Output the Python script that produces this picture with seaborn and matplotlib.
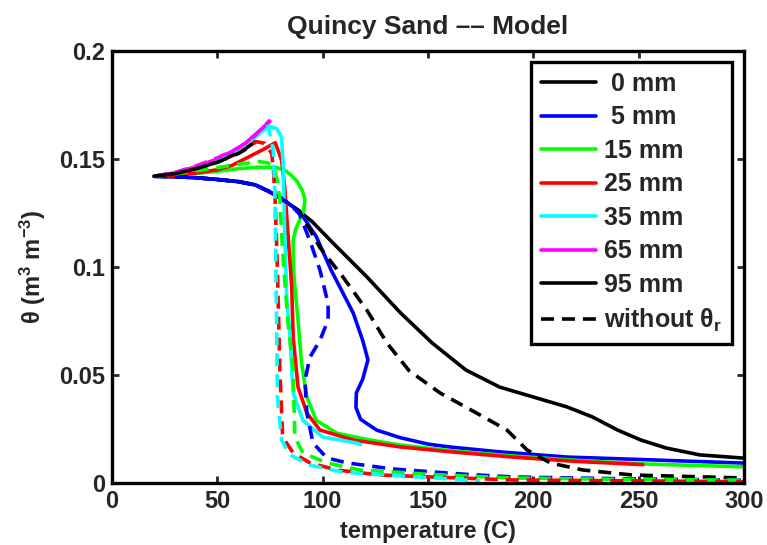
import numpy as np
import pandas as pd
import matplotlib
matplotlib.use("Agg")
import matplotlib.pyplot as plt
from matplotlib.lines import Line2D
import seaborn as sns

# ---- data: temperature (C) and water content theta (m3/m3) ----
# shared early drying branch for the 0 mm and 5 mm profiles
T_LOW = [20, 30, 40, 50, 60, 68, 74, 80, 85, 89]
TH_LOW = [0.142, 0.1418, 0.1413, 0.1405, 0.1395, 0.1380, 0.1352, 0.1320, 0.1285, 0.1258]

T_0MM = [95, 105, 121, 137, 152, 168, 184, 200, 216, 228, 240, 251, 263, 279, 300]
TH_0MM = [0.1210, 0.1110, 0.0954, 0.0787, 0.0648, 0.0523, 0.0444, 0.0398, 0.0352,
          0.0306, 0.0245, 0.0199, 0.0162, 0.0130, 0.0115]

T_5MM = [97, 104, 114.5, 119, 121.5, 119, 116, 115.8, 118, 125.6, 136.7, 150, 160, 184, 216, 247, 300]
TH_5MM = [0.1140, 0.0986, 0.0787, 0.0660, 0.0570, 0.0480, 0.0417, 0.0350, 0.0295,
          0.0245, 0.0210, 0.0180, 0.0167, 0.0144, 0.0120, 0.0110, 0.0092]

T_15MM = [20, 35, 50, 60, 70, 78, 82, 85, 88, 90.5, 91.6, 91, 89, 87, 86, 86, 86.5,
          88.3, 90, 92.5, 97, 106.8, 122.5, 136.7, 160, 190, 220, 252, 300]
TH_15MM = [0.142, 0.1428, 0.1443, 0.1455, 0.1462, 0.1460, 0.1448, 0.1425, 0.1395, 0.1350,
           0.1310, 0.1260, 0.1215, 0.1170, 0.1120, 0.1040, 0.0940, 0.0755, 0.0556, 0.0398,
           0.0290, 0.0230, 0.0199, 0.0176, 0.0150, 0.0125, 0.0105, 0.0088, 0.0075]

T_25MM = [20, 30, 40, 50, 57, 65, 72, 77.5, 80.5, 82, 83.5, 85.3, 86, 88.3, 92.5, 98.7,
          114.5, 136.7, 160, 190, 220, 252]
TH_25MM = [0.142, 0.1425, 0.1435, 0.1450, 0.1470, 0.1510, 0.1545, 0.1575, 0.1495, 0.1370,
           0.1157, 0.0909, 0.0676, 0.0444, 0.0324, 0.0245, 0.0199, 0.0167, 0.0145, 0.0120,
           0.0100, 0.0085]

T_35MM = [20, 30, 40, 50, 57, 63, 70, 75, 78.2, 80.5, 81.3, 82, 83, 84.5, 86, 90.6, 100, 116, 118]
TH_35MM = [0.142, 0.1434, 0.1460, 0.1495, 0.1530, 0.1565, 0.1620, 0.1650, 0.1640, 0.1600,
           0.1465, 0.1157, 0.0847, 0.0676, 0.0417, 0.0290, 0.0213, 0.0185, 0.0178]

T_65MM = [20, 30, 40, 50, 57, 63, 70, 75]
TH_65MM = [0.142, 0.1436, 0.1465, 0.1500, 0.1535, 0.1570, 0.1630, 0.1675]

T_95MM = [20, 30, 40, 50, 57, 63, 68]
TH_95MM = [0.142, 0.1432, 0.1455, 0.1485, 0.1515, 0.1545, 0.1580]

# profiles computed without residual water content
T_0MM_NR = [98.7, 109.6, 121, 130.5, 141, 155.7, 173, 187.5, 197, 208, 223.5, 247, 300]
TH_0MM_NR = [0.1090, 0.0954, 0.0800, 0.0648, 0.0520, 0.0417, 0.0324, 0.0245, 0.0153,
             0.0093, 0.0060, 0.0037, 0.0023]

T_5MM_NR = [94, 98.7, 102.6, 102.6, 98.7, 94, 91.6, 92.5, 95.4, 102, 111.5, 133, 168, 190, 240, 300]
TH_5MM_NR = [0.1120, 0.0986, 0.0830, 0.0755, 0.0660, 0.0583, 0.0477, 0.0324, 0.0185,
             0.0116, 0.0093, 0.0065, 0.0040, 0.0028, 0.0020, 0.0013]

T_15MM_NR = [20, 30, 40, 50, 60, 70, 74, 76.6, 78.5, 79.7, 80.5, 81.5, 83.5, 86, 86.8,
             90.6, 102, 117.7, 127, 150, 190, 240, 300]
TH_15MM_NR = [0.142, 0.1430, 0.1445, 0.1460, 0.1475, 0.1488, 0.1482, 0.1464, 0.1400, 0.1310,
              0.1157, 0.1000, 0.0750, 0.0520, 0.0213, 0.0139, 0.0093, 0.0060, 0.0055, 0.0040,
              0.0023, 0.0017, 0.0013]

T_25MM_NR = [20, 30, 40, 50, 60, 68.7, 72.6, 75.8, 76.6, 77.5, 78.5, 79.7, 81, 86, 94,
             106.8, 127, 190, 300]
TH_25MM_NR = [0.142, 0.1432, 0.1455, 0.1490, 0.1530, 0.1580, 0.1572, 0.1526, 0.1457, 0.1300,
              0.1000, 0.0520, 0.0213, 0.0139, 0.0093, 0.0060, 0.0037, 0.0014, 0.0006]

T_35MM_NR = [20, 30, 40, 50, 60, 68, 74, 76.6, 77.4, 77.8, 78.2, 78.5, 80.5, 84.5, 94,
             109.6, 130.5, 150, 174.6]
TH_35MM_NR = [0.142, 0.1436, 0.1465, 0.1500, 0.1545, 0.1600, 0.1657, 0.1540, 0.1310, 0.1000,
              0.0708, 0.0400, 0.0199, 0.0130, 0.0083, 0.0050, 0.0037, 0.0025, 0.0010]

T_65MM_NR = [20, 30, 40, 50, 60, 68, 75]
TH_65MM_NR = [0.142, 0.1438, 0.1468, 0.1505, 0.1550, 0.1610, 0.1680]

T_95MM_NR = [20, 30, 40, 50, 60, 66]
TH_95MM_NR = [0.142, 0.1432, 0.1455, 0.1485, 0.1525, 0.1560]

DEPTHS = ["0 mm", "5 mm", "15 mm", "25 mm", "35 mm", "65 mm", "95 mm"]
LEGEND_LABELS = [" 0 mm", " 5 mm", "15 mm", "25 mm", "35 mm", "65 mm", "95 mm"]
COLORS = ["#000000", "#0000ff", "#00ff00", "#ff0000", "#00ffff", "#ff00ff", "#000000"]

solid = [
    (T_LOW + T_0MM, TH_LOW + TH_0MM),
    (T_LOW + T_5MM, TH_LOW + TH_5MM),
    (T_15MM, TH_15MM),
    (T_25MM, TH_25MM),
    (T_35MM, TH_35MM),
    (T_65MM, TH_65MM),
    (T_95MM, TH_95MM),
]
no_resid = [
    (T_LOW + T_0MM_NR, TH_LOW + TH_0MM_NR),
    (T_LOW[:-1] + [89] + T_5MM_NR, TH_LOW[:-1] + [0.1245] + TH_5MM_NR),
    (T_15MM_NR, TH_15MM_NR),
    (T_25MM_NR, TH_25MM_NR),
    (T_35MM_NR, TH_35MM_NR),
    (T_65MM_NR, TH_65MM_NR),
    (T_95MM_NR, TH_95MM_NR),
]

frames = []
for kind, curves in (("model", solid), ("no_resid", no_resid)):
    for depth, (t, th) in zip(DEPTHS, curves):
        frames.append(pd.DataFrame({"temperature": t, "theta": th,
                                    "depth": depth, "kind": kind,
                                    "order": np.arange(len(t))}))
df = pd.concat(frames, ignore_index=True)

# ---- styling ----
sns.set_style("ticks")
FONT = "Liberation Sans"
plt.rcParams["font.family"] = [FONT, "DejaVu Sans"]
plt.rcParams["font.weight"] = "bold"
plt.rcParams["mathtext.fontset"] = "custom"
plt.rcParams["mathtext.rm"] = FONT + ":bold"
plt.rcParams["mathtext.bf"] = FONT + ":bold"
plt.rcParams["mathtext.it"] = FONT + ":bold"
plt.rcParams["mathtext.default"] = "bf"

FS = 17
LW = 2.6
DASH = (0, (3.6, 2.2))

fig = plt.figure(figsize=(7.67, 5.45), dpi=100)
ax = fig.add_axes([0.146, 0.1138, 0.824, 0.7927])

handles = []
for kind, ls in (("model", "-"), ("no_resid", DASH)):
    for depth, color, lab in zip(DEPTHS, COLORS, LEGEND_LABELS):
        sub = df[(df["kind"] == kind) & (df["depth"] == depth)]
        sns.lineplot(data=sub, x="temperature", y="theta", sort=False, estimator=None,
                     color=color, linewidth=LW, linestyle=ls, ax=ax, legend=False)
        if kind == "model":
            handles.append(Line2D([], [], color=color, linewidth=LW, label=lab))

handles.append(Line2D([], [], color="black", linewidth=LW, linestyle=DASH,
                      label=r"without θ$_{r}$"))

ax.set_xlim(0, 300)
ax.set_ylim(0, 0.2)
ax.set_xticks([0, 50, 100, 150, 200, 250, 300])
ax.set_xticklabels(["0", "50", "100", "150", "200", "250", "300"])
ax.set_yticks([0, 0.05, 0.1, 0.15, 0.2])
ax.set_yticklabels(["0", "0.05", "0.1", "0.15", "0.2"])
ax.tick_params(direction="in", length=5, width=2, top=True, right=True,
               labelsize=FS, pad=5)
for lab in ax.get_xticklabels() + ax.get_yticklabels():
    lab.set_fontweight("bold")
for sp in ax.spines.values():
    sp.set_visible(True)
    sp.set_linewidth(2.4)
    sp.set_color("black")

ax.set_xlabel("temperature (C)", fontsize=FS, fontweight="bold", labelpad=5)
ax.set_ylabel(r"θ (m$^{3}$ m$^{-3}$)", fontsize=FS, fontweight="bold", labelpad=8)
ax.set_title("Quincy Sand –– Model", fontsize=19, fontweight="bold", pad=12)

leg = ax.legend(handles=handles, loc="upper right", bbox_to_anchor=(0.981, 0.9745),
                borderaxespad=0, frameon=True, fancybox=False,
                handlelength=2.2, handletextpad=0.3, labelspacing=0.38,
                borderpad=0.4, prop={"family": FONT, "weight": "bold", "size": 18})
leg.get_frame().set_edgecolor("black")
leg.get_frame().set_linewidth(2.4)
leg.get_frame().set_alpha(1)

fig.savefig("out.png", dpi=100)
